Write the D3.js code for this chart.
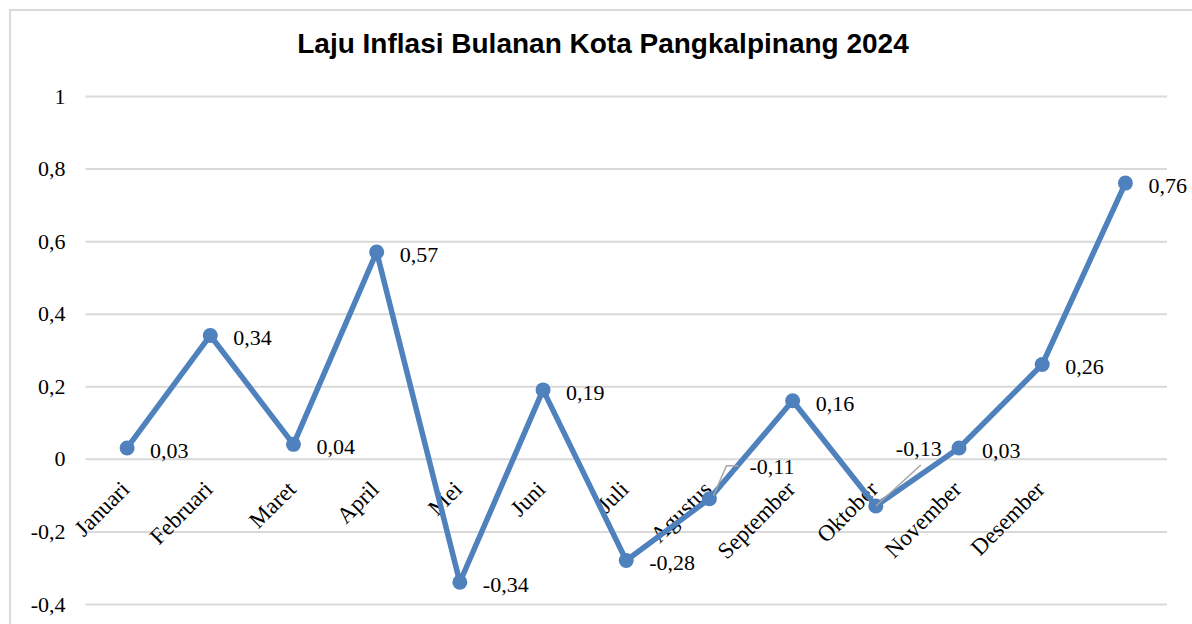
<!DOCTYPE html>
<html>
<head>
<meta charset="utf-8">
<script src="https://cdnjs.cloudflare.com/ajax/libs/d3/7.8.5/d3.min.js"></script>
<style>
  body { margin: 0; background: #fff; }
  svg { display: block; }
  .tick text { font-family: "Liberation Serif", "Times New Roman", serif; }
</style>
</head>
<body>
<div id="chart"></div>
<script>
// chart data
var months = ["Januari", "Februari", "Maret", "April", "Mei", "Juni", "Juli",
              "Agustus", "September", "Oktober", "November", "Desember", ""]
var inflasi = [0.03, 0.34, 0.04, 0.57, -0.34, 0.19, -0.28, -0.11, 0.16, -0.13, 0.03, 0.26, 0.76]
var yTicks = [-0.4, -0.2, 0, 0.2, 0.4, 0.6, 0.8, 1]
var title = "Laju Inflasi Bulanan Kota Pangkalpinang 2024"

var width = 1192, height = 624
var margin = {left: 85.5, right: 25, top: 96, bottom: 20}

var svg = d3.select("#chart").append("svg")
  .attr("width", width)
  .attr("height", height)

// outer chart border (cut off at right / bottom like the source)
svg.append("rect")
  .attr("x", 10).attr("y", 10)
  .attr("width", 1300).attr("height", 800)
  .attr("fill", "none")
  .attr("stroke", "#d9d9d9")
  .attr("stroke-width", 2)

svg.append("text")
  .attr("x", 603).attr("y", 53)
  .attr("text-anchor", "middle")
  .style("font-family", "'Liberation Sans', Arial, sans-serif")
  .style("font-weight", "bold")
  .style("font-size", "28px")
  .text(title)

var x = d3.scaleBand()
  .domain(d3.range(months.length))
  .range([margin.left, 1167])

var y = d3.scaleLinear()
  .domain([-0.4, 1])
  .range([604, margin.top])

var fmt = function(v) { return String(+v.toFixed(2)).replace(".", ",") }
var fmtTick = function(v) { return String(+v.toFixed(1)).replace(".", ",") }

// y axis with gridlines
var yAxis = svg.append("g")
  .attr("transform", "translate(" + margin.left + ",0)")
  .call(d3.axisLeft(y).tickValues(yTicks).tickSize(-(1167 - margin.left)).tickPadding(20).tickFormat(fmtTick))
yAxis.select(".domain").remove()
yAxis.selectAll(".tick line").attr("stroke", "#d9d9d9").attr("stroke-width", 2)
yAxis.selectAll(".tick text")
  .attr("fill", "#000")
  .style("font-size", "22px")

// category labels, rotated
svg.append("g").selectAll("text")
  .data(months)
  .enter().append("text")
  .attr("transform", function(d, i) {
    return "translate(" + (x(i) + x.bandwidth() / 2 - 2) + ",485) rotate(-45)"
  })
  .attr("text-anchor", "end")
  .attr("dy", "0.35em")
  .style("font-family", "'Liberation Serif', 'Times New Roman', serif")
  .style("font-size", "23px")
  .text(function(d) { return d })

var cx = function(d, i) { return x(i) + x.bandwidth() / 2 }

var line = d3.line()
  .x(function(d, i) { return cx(d, i) })
  .y(function(d) { return y(d) })

svg.append("path")
  .datum(inflasi)
  .attr("fill", "none")
  .attr("stroke", "#4f81bd")
  .attr("stroke-width", 5.5)
  .attr("stroke-linejoin", "round")
  .attr("d", line)

svg.append("g").selectAll("circle")
  .data(inflasi)
  .enter().append("circle")
  .attr("cx", cx)
  .attr("cy", function(d) { return y(d) })
  .attr("r", 7.5)
  .attr("fill", "#4f81bd")

// labels moved away from the line get a leader line
var moved = {7: {dx: 40, dy: -32, lx: [4, 17, 29], ly: [-3, -33, -33]},
             9: {dx: 20, dy: -58, lx: [0, 45], ly: [0, -41]}}

inflasi.forEach(function(v, i) {
  var px = cx(v, i), py = y(v)
  var m = moved[i]
  if (m) {
    svg.append("polyline")
      .attr("points", m.lx.map(function(a, k) { return (px + a) + "," + (py + m.ly[k]) }).join(" "))
      .attr("fill", "none")
      .attr("stroke", "#a6a6a6")
      .attr("stroke-width", 1.5)
  }
  svg.append("text")
    .attr("x", px + (m ? m.dx : 23))
    .attr("y", py + (m ? m.dy : 2))
    .attr("dy", "0.35em")
    .style("font-family", "'Liberation Serif', 'Times New Roman', serif")
    .style("font-size", "22px")
    .text(fmt(v))
})
</script>
</body>
</html>
